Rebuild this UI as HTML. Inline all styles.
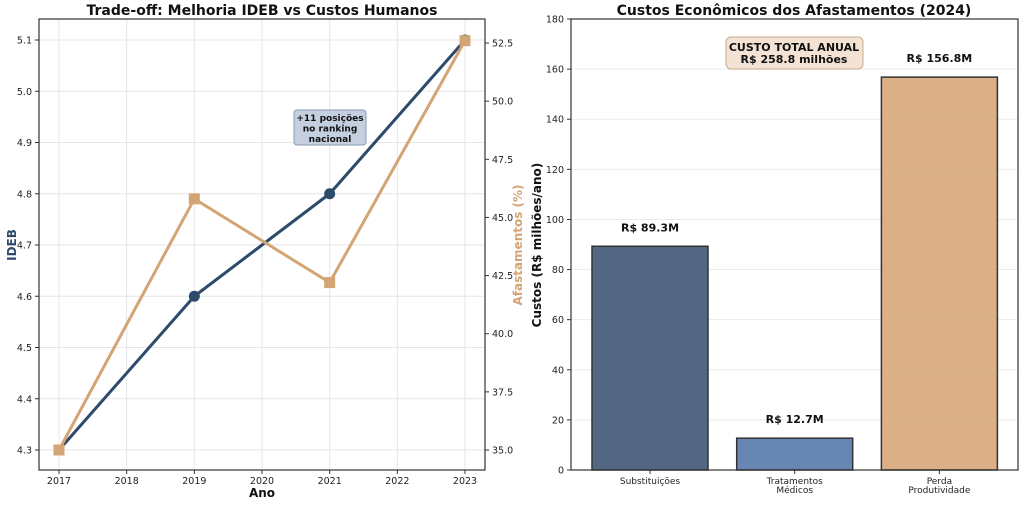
<!DOCTYPE html>
<html><head><meta charset="utf-8"><style>
body{margin:0;background:#fff;font-family:"Liberation Sans","DejaVu Sans",sans-serif;}
svg text{font-family:"DejaVu Sans","Liberation Sans",sans-serif;}
</style></head><body>
<svg id="c" width="1024" height="503" viewBox="0 0 1024 503" xmlns="http://www.w3.org/2000/svg"></svg>
<script>
const years=[2017,2019,2021,2023];
const ideb=[4.3,4.6,4.8,5.1];
const afast=[35.0,45.8,42.2,52.6];
const xTicks=[2017,2018,2019,2020,2021,2022,2023];
const idebTicks=[4.3,4.4,4.5,4.6,4.7,4.8,4.9,5.0,5.1];
const afTicks=[35.0,37.5,40.0,42.5,45.0,47.5,50.0,52.5];
const cats=[["Substituições"],["Tratamentos","Médicos"],["Perda","Produtividade"]];
const costs=[89.3,12.7,156.8];
const costLabels=["R$ 89.3M","R$ 12.7M","R$ 156.8M"];
const costTicks=[0,20,40,60,80,100,120,140,160,180];
const barColors=["#4a5f7e","#5f7fb0","#d9ac7f"];

const svg=document.getElementById('c');
const NS="http://www.w3.org/2000/svg";
function mk(tag,attrs,parent,name){const e=document.createElementNS(NS,tag);for(const k in attrs)e.setAttribute(k,attrs[k]);(parent||svg).appendChild(e);


return e;}
function txt(x,y,s,attrs,name){const t=mk('text',Object.assign({x:x,y:y},attrs),svg,name);t.textContent=s;return t;}

// Left chart
const L={x0:39,x1:485,y0:19,y1:470};
const xs=v=>59+(v-2017)*(465-59)/6;
const yI=v=>450+(v-4.3)*(40-450)/0.8;
const yA=v=>450+(v-35)*(43-450)/17.5;
xTicks.forEach(t=>{mk('line',{x1:xs(t),x2:xs(t),y1:L.y0,y2:L.y1,stroke:'#e6e6e6','stroke-width':1},svg,'x-gridline');
 mk('line',{x1:xs(t),x2:xs(t),y1:L.y1,y2:L.y1+4,stroke:'#333'},svg,'x-tick');
 txt(xs(t),484,String(t),{'font-size':9.5,'text-anchor':'middle',fill:'#222'},'x-tick-label');});
idebTicks.forEach(t=>{mk('line',{x1:L.x0,x2:L.x1,y1:yI(t),y2:yI(t),stroke:'#e6e6e6'},svg,'y-gridline');
 mk('line',{x1:L.x0-4,x2:L.x0,y1:yI(t),y2:yI(t),stroke:'#333'},svg,'y-tick');
 txt(L.x0-7,yI(t)+3.5,t.toFixed(1),{'font-size':9.5,'text-anchor':'end',fill:'#222'},'ideb-tick-label');});
afTicks.forEach(t=>{mk('line',{x1:L.x1,x2:L.x1+4,y1:yA(t),y2:yA(t),stroke:'#333'},svg,'y2-tick');
 txt(L.x1+7,yA(t)+3.5,t.toFixed(1),{'font-size':9.5,fill:'#222'},'afast-tick-label');});
mk('rect',{x:L.x0,y:L.y0,width:L.x1-L.x0,height:L.y1-L.y0,fill:'none',stroke:'#333','stroke-width':1.2},svg,'left-plot-frame');
mk('polyline',{points:years.map((y,i)=>xs(y)+','+yI(ideb[i])).join(' '),fill:'none',stroke:'#2e4a6b','stroke-width':3},svg,'ideb-line');
years.forEach((y,i)=>mk('circle',{cx:xs(y),cy:yI(ideb[i]),r:5.5,fill:'#2e4a6b'},svg,'ideb-point'));
mk('polyline',{points:years.map((y,i)=>xs(y)+','+yA(afast[i])).join(' '),fill:'none',stroke:'#d4a574','stroke-width':3},svg,'afast-line');
years.forEach((y,i)=>mk('rect',{x:xs(y)-5.5,y:yA(afast[i])-5.5,width:11,height:11,fill:'#d4a574'},svg,'afast-point'));
txt(262,15,'Trade-off: Melhoria IDEB vs Custos Humanos',{'font-size':14,'font-weight':'bold','text-anchor':'middle',fill:'#111'},'left-chart-title');
txt(262,497,'Ano',{'font-size':12,'font-weight':'bold','text-anchor':'middle',fill:'#111'},'x-axis-title');
txt(16,245,'IDEB',{'font-size':12,'font-weight':'bold','text-anchor':'middle',fill:'#2e4a6b',transform:'rotate(-90 16 245)'},'ideb-axis-title');
txt(522,245,'Afastamentos (%)',{'font-size':12,'font-weight':'bold','text-anchor':'middle',fill:'#d4a574',transform:'rotate(-90 522 245)'},'afast-axis-title');
mk('rect',{x:294,y:110,width:72,height:35,rx:3,fill:'#c4d0e0',stroke:'#8a9ab0'},svg,'ranking-annotation-box');
['+11 posições','no ranking','nacional'].forEach((s,i)=>txt(330,121+i*10.5,s,{'font-size':9,'font-weight':'bold','text-anchor':'middle',fill:'#111'},'ranking-annotation-text'));

// Right chart
const R={x0:571,x1:1018,y0:19,y1:470};
const yC=v=>470+v*(19-470)/180;
const xc=i=>650+i*144.7;
const bw=116;
costTicks.forEach(t=>{mk('line',{x1:R.x0,x2:R.x1,y1:yC(t),y2:yC(t),stroke:'#ececec'},svg,'cost-gridline');
 mk('line',{x1:R.x0-4,x2:R.x0,y1:yC(t),y2:yC(t),stroke:'#333'},svg,'cost-tick');
 txt(R.x0-7,yC(t)+3.5,String(t),{'font-size':9.5,'text-anchor':'end',fill:'#222'},'cost-tick-label');});
costs.forEach((v,i)=>{mk('rect',{x:xc(i)-bw/2,y:yC(v),width:bw,height:yC(0)-yC(v),fill:barColors[i],stroke:'#333','stroke-width':1.5,'fill-opacity':0.95},svg,'cost-bar');
 txt(xc(i),yC(v)-15,costLabels[i],{'font-size':11,'font-weight':'bold','text-anchor':'middle',fill:'#111'},'cost-value-label');
 mk('line',{x1:xc(i),x2:xc(i),y1:R.y1,y2:R.y1+4,stroke:'#333'},svg,'cat-tick');
 cats[i].forEach((s,j)=>txt(xc(i),484+j*9,s,{'font-size':9,'text-anchor':'middle',fill:'#222'},'category-label'));});
mk('rect',{x:R.x0,y:R.y0,width:R.x1-R.x0,height:R.y1-R.y0,fill:'none',stroke:'#333','stroke-width':1.2},svg,'right-plot-frame');
txt(794,15,'Custos Econômicos dos Afastamentos (2024)',{'font-size':14,'font-weight':'bold','text-anchor':'middle',fill:'#111'},'right-chart-title');
txt(541,245,'Custos (R$ milhões/ano)',{'font-size':12,'font-weight':'bold','text-anchor':'middle',fill:'#111',transform:'rotate(-90 541 245)'},'cost-axis-title');
mk('rect',{x:726,y:37,width:137,height:32,rx:5,fill:'#f4e3d4',stroke:'#c8a88a'},svg,'total-cost-box');
txt(794,51,'CUSTO TOTAL ANUAL',{'font-size':11,'font-weight':'bold','text-anchor':'middle',fill:'#111'},'total-cost-title');
txt(794,63,'R$ 258.8 milhões',{'font-size':11,'font-weight':'bold','text-anchor':'middle',fill:'#111'},'total-cost-value');
</script>
</body></html>
